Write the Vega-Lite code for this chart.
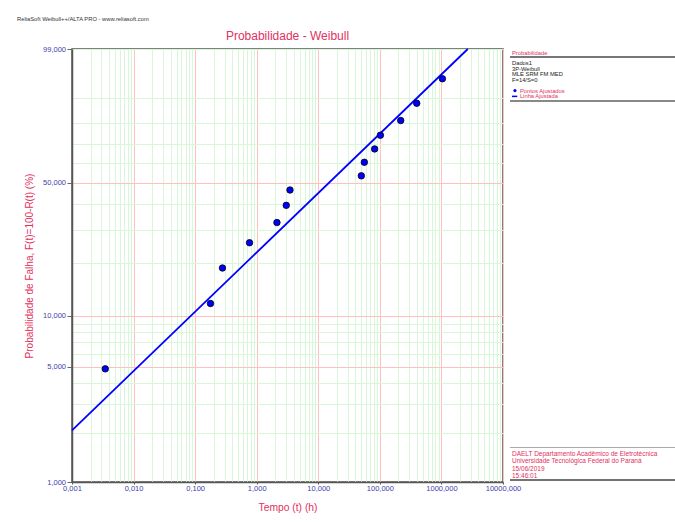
{
  "$schema": "https://vega.github.io/schema/vega-lite/v6.json",
  "background": "white",
  "padding": {"left": 17, "top": 15, "right": 0, "bottom": 8},
  "config": {"font": "Liberation Sans", "view": {"stroke": null}},
  "title": {"text": "ReliaSoft Weibull++/ALTA PRO - www.reliasoft.com", "anchor": "start", "frame": "group", "dx": -55, "offset": 7.5, "fontSize": 5.8, "fontWeight": "normal", "color": "#333333", "font": "Liberation Sans"},
  "datasets": {
    "pts": [
      {"t": 0.00347, "F": 4.861},
      {"t": 0.1775, "F": 11.806},
      {"t": 0.278, "F": 18.750},
      {"t": 0.764, "F": 25.694},
      {"t": 2.13, "F": 32.639},
      {"t": 3.02, "F": 39.583},
      {"t": 3.47, "F": 46.528},
      {"t": 50.0, "F": 53.472},
      {"t": 56.0, "F": 60.417},
      {"t": 82.3, "F": 67.361},
      {"t": 102, "F": 74.306},
      {"t": 218, "F": 81.250},
      {"t": 397, "F": 88.194},
      {"t": 1038, "F": 95.139}
    ],
    "fit": [
      {"t": 0.001, "F": 2.063},
      {"t": 2680, "F": 99}
    ],
    "legendRows": [
      {"line": -0.65, "label": "Probabilidade", "kind": "head"},
      {"line": 1, "label": "Dados1", "kind": "info"},
      {"line": 2, "label": "3P-Weibull", "kind": "info"},
      {"line": 3, "label": "MLE SRM FM MED", "kind": "info"},
      {"line": 4, "label": "F=14/S=0", "kind": "info"},
      {"line": 5.8, "label": "Pontos Ajustados", "kind": "key", "symbol": "point"},
      {"line": 6.8, "label": "Linha Ajustada", "kind": "key", "symbol": "line"}
    ],
    "infoRows": [
      {"line": 1, "label": "DAELT Departamento Acadêmico de Eletrotécnica"},
      {"line": 2, "label": "Universidade Tecnológica Federal do Paraná"},
      {"line": 3, "label": "15/06/2019"},
      {"line": 4, "label": "15:46:01"}
    ]
  },
  "bounds": "flush",
  "spacing": 7,
  "hconcat": [
    {
      "width": 431,
      "height": 433,
      "view": {"stroke": "#555555", "strokeWidth": 1.5},
      "title": {"text": "Probabilidade - Weibull", "fontSize": 12, "fontWeight": "normal", "color": "#e23060", "offset": 2},
      "encoding": {
        "x": {
          "field": "t", "type": "quantitative",
          "scale": {"type": "log", "domain": [0.001, 10000], "nice": false},
          "title": "Tempo (t) (h)",
          "axis": {
            "values": [0.001,0.002,0.003,0.004,0.005,0.006,0.007,0.008,0.009,0.01,0.02,0.03,0.04,0.05,0.06,0.07,0.08,0.09,0.1,0.2,0.3,0.4,0.5,0.6,0.7,0.8,0.9,1,2,3,4,5,6,7,8,9,10,20,30,40,50,60,70,80,90,100,200,300,400,500,600,700,800,900,1000,2000,3000,4000,5000,6000,7000,8000,9000,10000],
            "labelExpr": "abs(log(datum.value)/LN10 - round(log(datum.value)/LN10)) < 0.001 ? replace(format(datum.value, '.3f'), '.', ',') : ''",
            "grid": true,
            "gridColor": {"condition": {"test": "abs(log(datum.value)/LN10 - round(log(datum.value)/LN10)) < 0.001", "value": "#ffc0c0"}, "value": "#d8f7d8"},
            "gridWidth": 1,
            "tickColor": {"condition": {"test": "abs(log(datum.value)/LN10 - round(log(datum.value)/LN10)) < 0.001", "value": "#555555"}, "value": "rgba(0,0,0,0)"},
            "tickSize": 2,
            "labelPadding": 0,
            "labelFontSize": 7.5,
            "labelColor": "#4040aa",
            "labelOverlap": false,
            "labelFlush": false,
            "domainColor": "#555555",
            "domainWidth": 1.5,
            "titleColor": "#e23060",
            "titleFontSize": 10.3,
            "titleFontWeight": "normal",
            "titlePadding": 10.5
          }
        },
        "y": {
          "field": "u", "type": "quantitative",
          "scale": {"domain": [-4.600149, 1.52718], "nice": false, "zero": false},
          "title": "Probabilidade de Falha, F(t)=100-R(t) (%)",
          "axis": {
            "values": [-4.600149, -3.901939, -3.491367, -3.198535, -2.970195, -2.782633, -2.623194, -2.484328, -2.361162, -2.250367, -1.49994, -1.03093, -0.671727, -0.366513, -0.087422, 0.185627, 0.475885, 0.834032, 1.52718],
            "labelExpr": "indexof([1,5,10,50,99], round(100*(1-exp(-exp(datum.value))))) >= 0 ? replace(format(round(100*(1-exp(-exp(datum.value)))), '.3f'), '.', ',') : ''",
            "grid": true,
            "gridColor": {"condition": {"test": "indexof([5,10,50], round(100*(1-exp(-exp(datum.value))))) >= 0", "value": "#ffc0c0"}, "value": "#d8f7d8"},
            "gridWidth": 1,
            "tickColor": {"condition": {"test": "indexof([1,5,10,50,99], round(100*(1-exp(-exp(datum.value))))) >= 0", "value": "#666666"}, "value": "rgba(0,0,0,0)"},
            "tickSize": 5,
            "labelPadding": 1.5,
            "labelFontSize": 7.5,
            "labelColor": "#4040aa",
            "labelOverlap": false,
            "labelFlush": false,
            "domainColor": "#555555",
            "domainWidth": 1.5,
            "titleColor": "#e23060",
            "titleFontSize": 10,
            "titleFontWeight": "normal",
            "titlePadding": 8
          }
        }
      },
      "layer": [
        {
          "data": {"name": "fit"},
          "transform": [{"calculate": "log(-log(1 - datum.F/100))", "as": "u"}],
          "mark": {"type": "line", "color": "#0000ff", "strokeWidth": 1.8}
        },
        {
          "data": {"name": "pts"},
          "transform": [{"calculate": "log(-log(1 - datum.F/100))", "as": "u"}],
          "mark": {"type": "circle", "color": "#0000ff", "stroke": "#000000", "strokeWidth": 0.8, "size": 42, "opacity": 1}
        }
      ]
    },
    {
      "bounds": "flush",
      "spacing": 346.5,
      "vconcat": [
        {
          "width": 165,
          "height": 52,
          "view": {"stroke": null},
          "data": {"name": "legendRows"},
          "layer": [
            {
              "data": {"values": [{}]},
              "mark": {"type": "rule", "color": "#777777", "strokeWidth": 2},
              "encoding": {
                "x": {"datum": 0, "type": "quantitative", "scale": {"domain": [0, 100]}, "axis": null},
                "x2": {"datum": 100},
                "y": {"datum": 0, "type": "quantitative", "scale": {"domain": [-1.4, 7.6], "reverse": true}, "axis": null}
              }
            },
            {
              "data": {"values": [{}]},
              "mark": {"type": "rule", "color": "#888888", "strokeWidth": 2},
              "encoding": {
                "x": {"datum": 0, "type": "quantitative", "scale": {"domain": [0, 100]}, "axis": null},
                "x2": {"datum": 100},
                "y": {"datum": 7.6, "type": "quantitative", "scale": {"domain": [-1.4, 7.6], "reverse": true}, "axis": null}
              }
            },
            {
              "transform": [{"filter": "datum.kind != 'key'"}],
              "mark": {"type": "text", "align": "left", "baseline": "middle", "fontSize": 5.8},
              "encoding": {
                "x": {"datum": 1.2, "type": "quantitative", "scale": {"domain": [0, 100]}, "axis": null},
                "y": {"field": "line", "type": "quantitative", "scale": {"domain": [-1.4, 7.6], "reverse": true}, "axis": null},
                "text": {"field": "label"},
                "color": {"field": "kind", "type": "nominal", "scale": {"domain": ["head", "info", "key"], "range": ["#e23060", "#222222", "#e23060"]}, "legend": null}
              }
            },
            {
              "transform": [{"filter": "datum.kind == 'key'"}],
              "mark": {"type": "text", "align": "left", "baseline": "middle", "fontSize": 5.8},
              "encoding": {
                "x": {"datum": 6, "type": "quantitative", "scale": {"domain": [0, 100]}, "axis": null},
                "y": {"field": "line", "type": "quantitative", "scale": {"domain": [-1.4, 7.6], "reverse": true}, "axis": null},
                "text": {"field": "label"},
                "color": {"field": "kind", "type": "nominal", "scale": {"domain": ["head", "info", "key"], "range": ["#e23060", "#222222", "#e23060"]}, "legend": null}
              }
            },
            {
              "transform": [{"filter": "datum.symbol == 'point'"}],
              "mark": {"type": "circle", "color": "#0000ff", "size": 10, "opacity": 1},
              "encoding": {
                "x": {"datum": 3, "type": "quantitative", "scale": {"domain": [0, 100]}, "axis": null},
                "y": {"field": "line", "type": "quantitative", "scale": {"domain": [-1.4, 7.6], "reverse": true}, "axis": null}
              }
            },
            {
              "transform": [{"filter": "datum.symbol == 'line'"}],
              "mark": {"type": "rule", "color": "#0000ff", "strokeWidth": 1.5},
              "encoding": {
                "x": {"datum": 1.2, "type": "quantitative", "scale": {"domain": [0, 100]}, "axis": null},
                "x2": {"datum": 4.4},
                "y": {"field": "line", "type": "quantitative", "scale": {"domain": [-1.4, 7.6], "reverse": true}, "axis": null}
              }
            }
          ]
        },
        {
          "width": 165,
          "height": 32.5,
          "view": {"stroke": null},
          "data": {"name": "infoRows"},
          "layer": [
            {
              "data": {"values": [{}]},
              "mark": {"type": "rule", "color": "#aaaaaa", "strokeWidth": 1},
              "encoding": {
                "x": {"datum": 0, "type": "quantitative", "scale": {"domain": [0, 100]}, "axis": null},
                "x2": {"datum": 100},
                "y": {"datum": 0.15, "type": "quantitative", "scale": {"domain": [0.15, 4.5], "reverse": true}, "axis": null}
              }
            },
            {
              "data": {"values": [{}]},
              "mark": {"type": "rule", "color": "#444444", "strokeWidth": 1.5},
              "encoding": {
                "x": {"datum": 0, "type": "quantitative", "scale": {"domain": [0, 100]}, "axis": null},
                "x2": {"datum": 100},
                "y": {"datum": 4.5, "type": "quantitative", "scale": {"domain": [0.15, 4.5], "reverse": true}, "axis": null}
              }
            },
            {
              "mark": {"type": "text", "align": "left", "baseline": "middle", "fontSize": 6.5, "color": "#e23060"},
              "encoding": {
                "x": {"datum": 1.2, "type": "quantitative", "scale": {"domain": [0, 100]}, "axis": null},
                "y": {"field": "line", "type": "quantitative", "scale": {"domain": [0.15, 4.5], "reverse": true}, "axis": null},
                "text": {"field": "label"}
              }
            }
          ]
        }
      ]
    }
  ]
}
